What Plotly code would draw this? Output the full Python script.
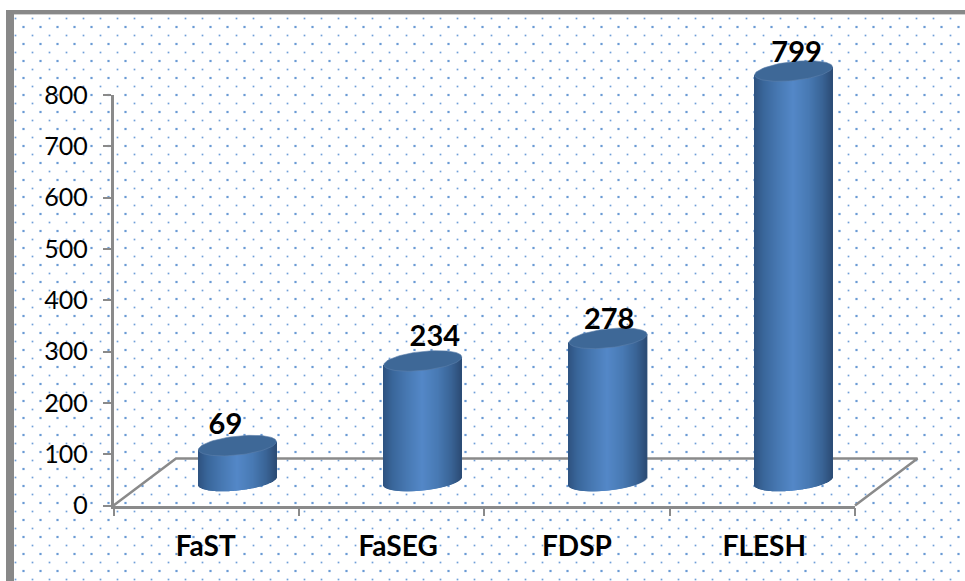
import numpy as np
import plotly.graph_objects as go

# ---- data ----
categories = ["FaST", "FaSEG", "FDSP", "FLESH"]
values = [69, 234, 278, 799]
y_ticks = [0, 100, 200, 300, 400, 500, 600, 700, 800]

# ---- layout constants (pixels of the 965x581 page) ----
W, H = 965, 581
AX_L, AX_R, AX_T, AX_B = 113.5, 855.0, 95.0, 505.5
PX_X = (AX_R - AX_L) / len(categories)
PX_Y = (AX_B - AX_T) / 800.0
DEPTH_X_PX, DEPTH_Y_PX = 62.5, 47.0
CYL_A, CYL_B, CYL_TILT = 39.0, 9.5, 4.0
label_shift_px = [-0.5, 6.5, 0, 2]
value_shift_px = [(-12, -7), (12, -4), (1, -9), (3, -10)]
VALUE_GAP = 26
GRAY = "#8a8a8a"
FONT = "Lato"

stops_u = [-1.0, -0.75, -0.4, 0.0, 0.4, 0.75, 1.0]
stops_rgb = np.array([[46, 82, 128], [58, 103, 155], [71, 120, 178], [84, 136, 200],
                      [72, 122, 180], [58, 100, 150], [44, 76, 118]], float)


def ramp(u):
    return [f"rgb({int(np.interp(t, stops_u, stops_rgb[:, 0]))},"
            f"{int(np.interp(t, stops_u, stops_rgb[:, 1]))},"
            f"{int(np.interp(t, stops_u, stops_rgb[:, 2]))})" for t in u]


fig = go.Figure()

# ---- background dots and floor, on a full-page pixel axis pair ----
xs_a = np.arange(15.5, W, 17.0)
xs_b = np.arange(23.5, W, 17.0)
ys_a = np.arange(18.5, H, 17.0)
ys_b = np.arange(27.0, H, 17.0)
ax_, ay_ = np.meshgrid(xs_a, ys_a)
bx_, by_ = np.meshgrid(xs_b, ys_b)
fig.add_trace(go.Scatter(x=ax_.ravel(), y=ay_.ravel(), mode="markers", xaxis="x", yaxis="y",
                         marker=dict(symbol="square", size=1.7, color="#6f9fd8", line_width=0),
                         hoverinfo="skip", showlegend=False))
fig.add_trace(go.Scatter(x=bx_.ravel(), y=by_.ravel(), mode="markers", xaxis="x", yaxis="y",
                         marker=dict(symbol="square", size=2.2, color="#6a9ad4", line_width=0),
                         hoverinfo="skip", showlegend=False))
floor_x = [AX_L, AX_L + DEPTH_X_PX, AX_R + DEPTH_X_PX, AX_R]
floor_y = [AX_B, AX_B - DEPTH_Y_PX, AX_B - DEPTH_Y_PX, AX_B]
fig.add_trace(go.Scatter(x=floor_x, y=floor_y, mode="lines", xaxis="x", yaxis="y",
                         line=dict(color=GRAY, width=2.5), hoverinfo="skip", showlegend=False))

# ---- value axis carrier (real ticks and labels) ----
fig.add_trace(go.Scatter(x=[i + 0.5 for i in range(len(values))], y=values, mode="markers",
                         marker=dict(opacity=0), xaxis="x2", yaxis="y2",
                         hoverinfo="skip", showlegend=False))

# ---- cylinders: same scale as the value axes, extended over the whole page ----
half_w = CYL_A / PX_X
depth_x = DEPTH_X_PX / PX_X
base_lift = 24.5 / PX_Y
tilt = CYL_TILT / PX_Y
minor = CYL_B / PX_Y
n = int(2 * CYL_A)
u = (np.arange(n) + 0.5) / n * 2 - 1
for i, v in enumerate(values):
    cx = i + 0.5 + depth_x / 2
    bot = base_lift + tilt * u - minor * np.sqrt(1 - u ** 2)
    top = base_lift + v + tilt * u
    fig.add_trace(go.Bar(x=cx + u * half_w, y=top - bot, base=bot, width=1.4 / PX_X,
                         marker=dict(color=ramp(u), line_width=0), xaxis="x3", yaxis="y3",
                         hoverinfo="skip", showlegend=False))
    t = np.linspace(0, 2 * np.pi, 90)
    fig.add_trace(go.Scatter(x=cx + half_w * np.cos(t),
                             y=base_lift + v + minor * np.sin(t) + tilt * np.cos(t),
                             mode="lines", fill="toself", fillcolor="#3e6897",
                             line=dict(color="#5c80ab", width=0.6), xaxis="x3", yaxis="y3",
                             hoverinfo="skip", showlegend=False))

# ---- value labels ----
fig.add_trace(go.Scatter(
    x=[i + 0.5 + depth_x / 2 + value_shift_px[i][0] / PX_X for i in range(len(values))],
    y=[base_lift + v + (VALUE_GAP + value_shift_px[i][1]) / PX_Y for i, v in enumerate(values)],
    text=[str(v) for v in values], mode="text", textposition="middle center",
    textfont=dict(family=FONT, size=29, color="black", weight="bold"),
    xaxis="x3", yaxis="y3", hoverinfo="skip", showlegend=False))

fig.update_layout(
    width=W, height=H, autosize=False,
    margin=dict(l=0, r=0, t=0, b=0),
    paper_bgcolor="white", plot_bgcolor="rgba(0,0,0,0)",
    showlegend=False, barmode="overlay",
    xaxis=dict(domain=[0, 1], range=[0, W], visible=False, fixedrange=True, automargin=False),
    yaxis=dict(domain=[0, 1], range=[H, 0], visible=False, fixedrange=True, automargin=False),
    xaxis2=dict(domain=[AX_L / W, AX_R / W], range=[0, len(categories)], anchor="y2",
                automargin=False,
                showline=True, linecolor=GRAY, linewidth=2.5, showgrid=False, zeroline=False,
                tickmode="array",
                tickvals=[i + 0.5 + label_shift_px[i] / PX_X for i in range(len(categories))],
                ticktext=categories, ticks="outside", ticklen=0, tickwidth=0,
                ticklabelstandoff=14,
                tickfont=dict(family=FONT, size=28, color="black", weight="bold"),
                minor=dict(tickmode="array", tickvals=list(range(len(categories) + 1)),
                           ticks="outside", ticklen=8, tickwidth=2.2, tickcolor=GRAY,
                           showgrid=False)),
    yaxis2=dict(domain=[(H - AX_B) / H, (H - AX_T) / H], range=[0, 800], anchor="x2",
                automargin=False,
                showline=True, linecolor=GRAY, linewidth=2.5, showgrid=False, zeroline=False,
                tickmode="array", tickvals=y_ticks, ticktext=[str(t) for t in y_ticks],
                ticks="outside", ticklen=8, tickwidth=2.2, tickcolor=GRAY,
                ticklabelstandoff=10,
                tickfont=dict(family=FONT, size=25, color="black")),
    xaxis3=dict(domain=[0, 1], range=[-AX_L / PX_X, (W - AX_L) / PX_X], visible=False,
                anchor="y3", automargin=False),
    yaxis3=dict(domain=[0, 1], range=[(AX_B - H) / PX_Y, AX_B / PX_Y], visible=False,
                anchor="x3", automargin=False),
    shapes=[
        dict(type="rect", xref="paper", yref="paper", layer="above", line_width=0,
             fillcolor="#888888", x0=6 / W, x1=14 / W, y0=0, y1=1 - 10 / H),
        dict(type="rect", xref="paper", yref="paper", layer="above", line_width=0,
             fillcolor="#888888", x0=6 / W, x1=1, y0=1 - 14 / H, y1=1 - 10 / H),
        dict(type="rect", xref="paper", yref="paper", layer="above", line_width=0,
             fillcolor="#d0d0d0", x0=14 / W, x1=1, y0=1 - 15 / H, y1=1 - 14 / H),
    ],
)
fig.write_html("out.html", config=dict(displayModeBar=False),
               post_script="document.body.style.margin='0';document.documentElement.style.overflow='hidden';")
